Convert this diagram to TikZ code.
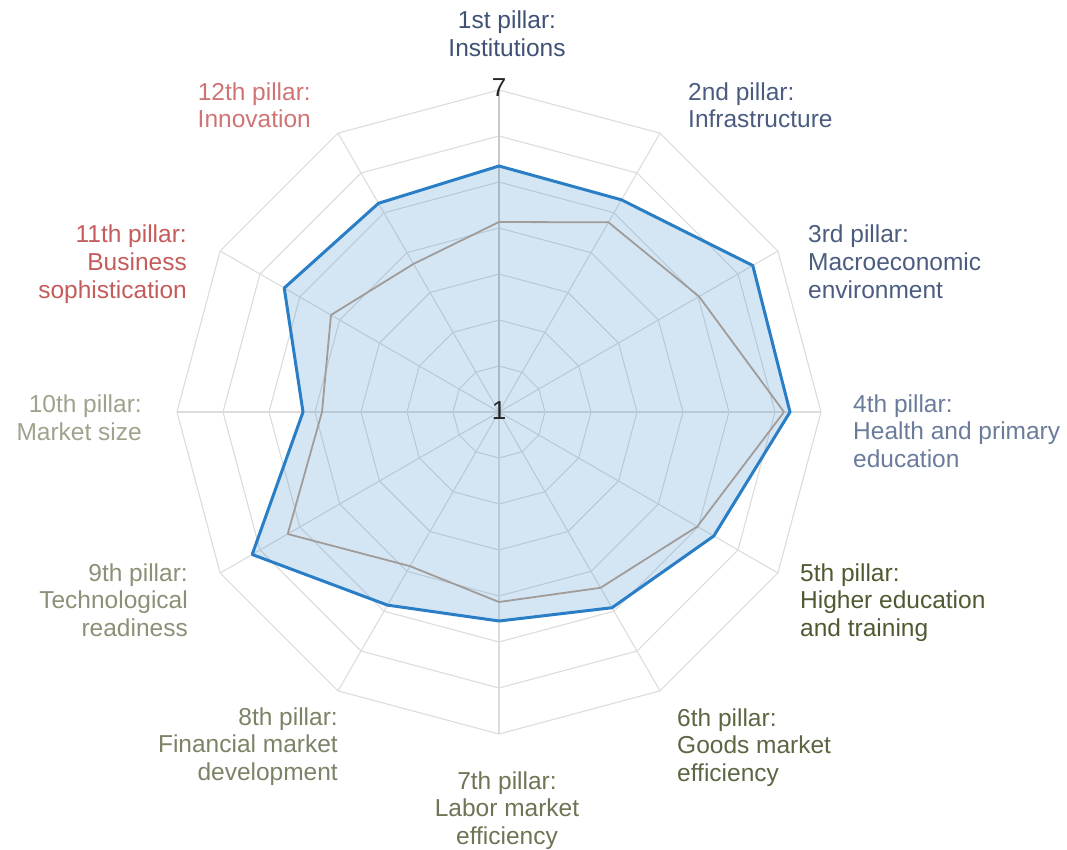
\documentclass[tikz,border=0pt]{standalone}
\usepackage{fontspec}
\setmainfont{Liberation Sans}
\definecolor{gridc}{HTML}{DCDCDC}
\definecolor{spokec}{HTML}{C8C8C8}
\definecolor{bluel}{HTML}{2A7EC6}
\definecolor{grayl}{HTML}{A09C99}
\definecolor{cA}{HTML}{3F5275}
\definecolor{cB}{HTML}{4B5C7F}
\definecolor{cC}{HTML}{6B7C9B}
\definecolor{cD}{HTML}{4E5A31}
\definecolor{cE}{HTML}{5B6743}
\definecolor{cF}{HTML}{6D7555}
\definecolor{cG}{HTML}{7B8366}
\definecolor{cH}{HTML}{8A9176}
\definecolor{cI}{HTML}{9DA38C}
\definecolor{cJ}{HTML}{C55B5B}
\definecolor{cK}{HTML}{CF7474}
\begin{document}
\begin{tikzpicture}[x=1pt,y=-1pt,
  gridline/.style={draw=gridc, line width=1.1pt},
  lab/.style={inner sep=0pt, font=\fontsize{24.5}{27.5}\selectfont},
  num/.style={inner sep=0pt, text=black!85, font=\fontsize{26}{28}\selectfont}]
\useasboundingbox (0,0) rectangle (1067,850);
\begin{scope}[shift={(499,412)}]
  \foreach \k in {1,...,7}{
    \draw[gridline] ({-90}:{46*\k}) \foreach \a in {1,...,11}{ -- ({-90+30*\a}:{46*\k})} -- cycle;
  }
  \foreach \a in {0,...,11}{
    \draw[gridline] (0,0) -- ({-90+30*\a}:322);
  }
  \draw[draw=spokec, line width=1.1pt] (0,0) -- (-90:322);
  \fill[bluel, opacity=0.2] (-90:246) -- (-60:245) -- (-30:293) -- (0:291) -- (30:248) -- (60:226) -- (90:209) -- (120:223) -- (150:285) -- (180:196) -- (210:248) -- (240:241) -- cycle;
  \draw[grayl, line width=1.8pt, line join=round] (-90:190) -- (-60:219) -- (-30:231) -- (0:285) -- (30:229) -- (60:203) -- (90:190) -- (120:178) -- (150:244) -- (180:177) -- (210:194) -- (240:171) -- cycle;
  \draw[bluel, line width=3pt, line join=round] (-90:246) -- (-60:245) -- (-30:293) -- (0:291) -- (30:248) -- (60:226) -- (90:209) -- (120:223) -- (150:285) -- (180:196) -- (210:248) -- (240:241) -- cycle;
\end{scope}
\node[num, anchor=base] (n7) at (499,97) {7};
\node[num, anchor=base] (n1) at (499,419) {1};
\node[lab, text=cA, align=center, anchor=base] (l1) at (507,56.5) {1st pillar:\\Institutions};
\node[lab, text=cB, align=left, anchor=base west] (l2) at (688,128) {2nd pillar:\\Infrastructure};
\node[lab, text=cB, align=left, anchor=base west] (l3) at (808,298) {3rd pillar:\\Macroeconomic\\environment};
\node[lab, text=cC, align=left, anchor=base west] (l4) at (853,467) {4th pillar:\\Health and primary\\education};
\node[lab, text=cD, align=left, anchor=base west] (l5) at (800,636) {5th pillar:\\Higher education\\and training};
\node[lab, text=cE, align=left, anchor=base west] (l6) at (677,781) {6th pillar:\\Goods market\\efficiency};
\node[lab, text=cF, align=center, anchor=base] (l7) at (507,844) {7th pillar:\\Labor market\\efficiency};
\node[lab, text=cG, align=right, anchor=base east] (l8) at (338,780) {8th pillar:\\Financial market\\development};
\node[lab, text=cH, align=right, anchor=base east] (l9) at (188,636) {9th pillar:\\Technological\\readiness};
\node[lab, text=cI, align=right, anchor=base east] (l10) at (142,440) {10th pillar:\\Market size};
\node[lab, text=cJ, align=right, anchor=base east] (l11) at (187,298) {11th pillar:\\Business\\sophistication};
\node[lab, text=cK, align=right, anchor=base east] (l12) at (311,128) {12th pillar:\\Innovation};
\end{tikzpicture}
\end{document}
